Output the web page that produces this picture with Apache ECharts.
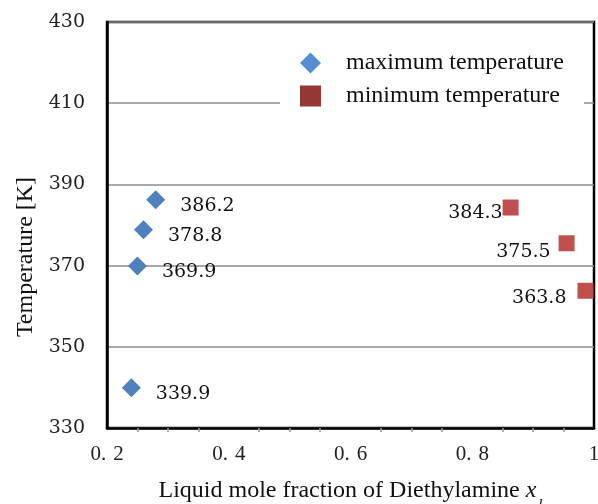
<!DOCTYPE html>
<html><head><meta charset="utf-8">
<script src="https://cdn.jsdelivr.net/npm/echarts@6/dist/echarts.min.js"></script>
<style>html,body{margin:0;padding:0;background:#fff}#c{width:598px;height:504px}</style>
</head><body><div id="c"></div>
<script>
const maxX = [0.28, 0.26, 0.25, 0.24];
const maxT = [386.2, 378.8, 369.9, 339.9];
const minX = [0.863, 0.955, 0.986];
const minT = [384.3, 375.5, 363.8];
const minLabelDist = [0, 8, 11];
const minLabelDy = [6, 9, 7];
const seriesNames = ['maximum temperature', 'minimum temperature'];
const xTitle = 'Liquid mole fraction of Diethylamine ';
const yTitle = 'Temperature [K]';

const serif = 'Liberation Serif';
const numFont = 'DejaVu Serif';
const chart = echarts.init(document.getElementById('c'));
chart.setOption({
  animation: false,
  backgroundColor: '#fff',
  grid: {left: 107, top: 22, width: 487, height: 406, outerBoundsMode: 'none', containLabel: false,
    show: true, borderColor: '#000', borderWidth: 2.5, backgroundColor: 'transparent'},
  xAxis: {
    type: 'value', min: 0.2, max: 1, interval: 0.2,
    axisLine: {show: true, onZero: false, lineStyle: {color: '#000', width: 2.5}},
    axisTick: {show: false},
    minorTick: {show: true, splitNumber: 4, length: 4, lineStyle: {color: '#999', width: 1.5}},
    splitLine: {show: false},
    axisLabel: {margin: 16, color: '#222', fontFamily: serif, fontSize: 21,
      formatter: v => {
        const s = (Math.round(v * 10) / 10).toString();
        if (s.indexOf('.') < 0) return s;
        const p = s.split('.');
        return '{a|' + p[0] + '.}{b|' + p[1] + '}';
      },
      rich: {a: {fontFamily: serif, fontSize: 21, color: '#222'}, b: {fontFamily: serif, fontSize: 21, color: '#222', padding: [0, 0, 0, 7]}}
    },
    name: xTitle, nameLocation: 'middle', nameGap: 51,
    nameTextStyle: {fontFamily: serif, fontSize: 24, color: '#111'}
  },
  yAxis: {
    type: 'value', min: 330, max: 430, interval: 20,
    axisLine: {show: true, lineStyle: {color: '#000', width: 2.5}},
    axisTick: {show: false},
    splitLine: {show: true, lineStyle: {color: '#8c8c8c', width: 1.5}},
    axisLabel: {margin: 22, color: '#222', fontFamily: numFont, fontSize: 19},
    name: yTitle, nameLocation: 'middle', nameGap: 68,
    nameTextStyle: {fontFamily: serif, fontSize: 24, color: '#111', padding: [0, 64, 0, 0]}
  },
  legend: {
    left: 280, top: 39, orient: 'vertical',
    backgroundColor: '#fff',
    padding: [12, 20, 12, 20],
    itemWidth: 21, itemHeight: 21, itemGap: 9,
    textStyle: {fontFamily: serif, fontSize: 24, lineHeight: 20, color: '#111', padding: [0, 0, 0, 20]},
    data: [
      {name: seriesNames[0], icon: 'path://M10,0L20,10L10,20L0,10Z', itemStyle: {color: '#558ED5'}},
      {name: seriesNames[1], icon: 'path://M0,0H20V20H0Z', itemStyle: {color: '#953735'}}
    ]
  },
  series: [
    {
      name: seriesNames[0], type: 'scatter', symbol: 'diamond', symbolSize: 19,
      itemStyle: {color: '#4F81BD', opacity: 1},
      data: maxX.map((x, i) => [x, maxT[i]]),
      label: {show: true, position: 'right', distance: 15, offset: [0, 6],
        formatter: p => p.value[1].toFixed(1),
        fontFamily: numFont, fontSize: 19, color: '#111'}
    },
    {
      name: seriesNames[1], type: 'scatter', symbol: 'rect', symbolSize: 16,
      itemStyle: {color: '#C0504D', opacity: 1},
      data: minX.map((x, i) => ({value: [x, minT[i]],
        label: {distance: minLabelDist[i], offset: [0, minLabelDy[i]]}})),
      label: {show: true, position: 'left',
        formatter: p => p.value[1].toFixed(1),
        fontFamily: numFont, fontSize: 19, color: '#111'}
    }
  ]
});
// x-axis title with italic variable and subscript
chart.setOption({xAxis: {name: xTitle + '{i|x}{s|l}',
  nameTextStyle: {rich: {i: {fontFamily: serif, fontStyle: 'italic', fontSize: 24, color: '#111'},
    s: {fontFamily: serif, fontStyle: 'italic', fontSize: 15, color: '#111', verticalAlign: 'bottom', padding: [0, 0, -10, 2]}}}}});
</script>
</body></html>
